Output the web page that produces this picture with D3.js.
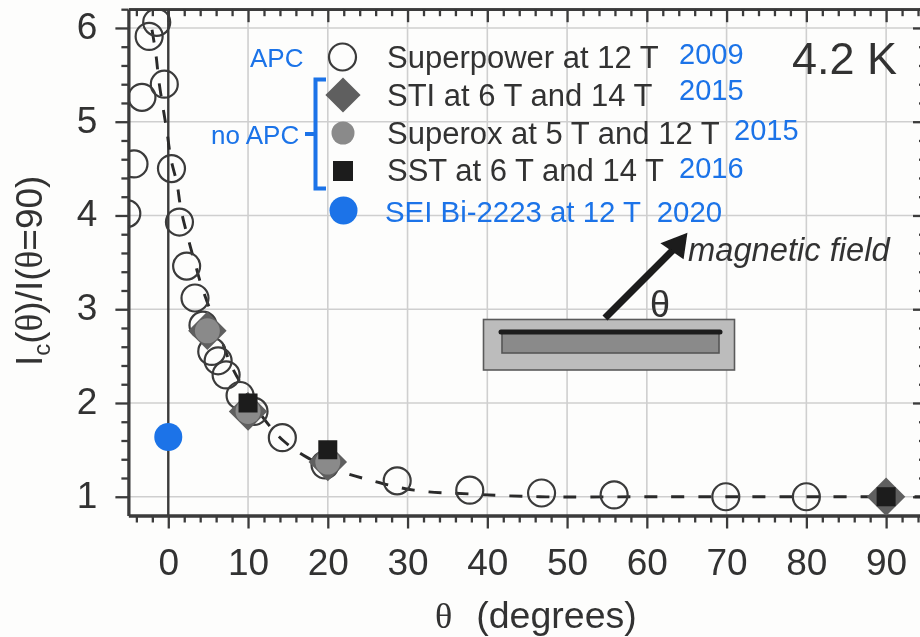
<!DOCTYPE html>
<html><head><meta charset="utf-8">
<script src="https://cdn.jsdelivr.net/npm/d3@7/dist/d3.min.js"></script>
<style>html,body{margin:0;padding:0;background:#fdfdfc}svg{display:block}text{font-family:"Liberation Sans",Arial,sans-serif}</style>
</head><body><svg id="c" width="920" height="637"></svg>
<script>
const superpowerTheta=[-1.45,-2.4,-0.5,-3.3,-4.3,0.4,-5.2,1.4,2.3,3.35,4.35,5.45,6.25,7.25,9,10.75,14.3,19.65,28.7,37.8,46.8,55.9,69.9,80];
const superpowerRatio=[6.06,5.91,5.4,5.26,4.55,4.5,4.02,3.93,3.46,3.12,2.83,2.55,2.45,2.3,2.08,1.91,1.63,1.34,1.17,1.07,1.04,1.02,1,1];
const stiTheta=[4.9,10,20,90];
const stiRatio=[2.77,1.91,1.37,1];
const superoxTheta=[4.9,10,20];
const superoxRatio=[2.77,1.91,1.37];
const sstTheta=[10,20,90];
const sstRatio=[2,1.5,1];
const seiTheta=[0];
const seiRatio=[1.637];
const fitTheta=[-2.04,-1.54,-1.17,-0.66,-0.16,0.34,1.09,1.6,2.47,3.35,4.2,6.2,8,9.4,12.1,14.4,17.4,20.3,24.3,30.8,37.8,46.6,60,95];
const fitRatio=[5.98,5.71,5.43,5.15,4.89,4.6,4.34,4.06,3.76,3.49,3.24,2.78,2.38,2.17,1.82,1.6,1.42,1.31,1.2,1.07,1.03,1,1,1];
const xTicks=[0,10,20,30,40,50,60,70,80,90];
const yTicks=[1,2,3,4,5,6];
const legendLabels=["Superpower at 12 T","STI at 6 T and 14 T","Superox at 5 T and 12 T","SST at 6 T and 14 T"];
const legendYears=["2009","2015","2015","2016"];
const seiLabel="SEI Bi-2223 at 12 T  2020";

const ink="#3a3a3a",blue="#1a73e8";
const L=128.4,R=926,T=9.2,B=515.5;
const svg=d3.select("#c");
const defs=svg.append("defs");
defs.append("clipPath").attr("id","plot").append("rect").attr("x",L).attr("y",T).attr("width",R-L).attr("height",B-T);
defs.append("filter").attr("id","soft").append("feGaussianBlur").attr("stdDeviation",0.45);
const x=d3.scaleLinear().domain([-5,95]).range([L,R]);
const y=d3.scaleLinear().domain([0.8,6.2]).range([B,T]);
const root=svg.append("g").attr("filter","url(#soft)");

const grid=root.append("g").attr("stroke","#cfcfcf").attr("stroke-width",1.6);
grid.selectAll(".gx").data(xTicks.filter(d=>d!==0)).join("line").attr("x1",d=>x(d)).attr("x2",d=>x(d)).attr("y1",T).attr("y2",B);
grid.selectAll(".gy").data(yTicks).join("line").attr("x1",L).attr("x2",R).attr("y1",d=>y(d)).attr("y2",d=>y(d));

function minor(lo,hi,step){return d3.range(Math.round((hi-lo)/step)+1).map(i=>+(lo+i*step).toFixed(3));}
const xMinor=minor(-4,94,2).filter(d=>!xTicks.includes(d));
const yMinor=minor(1,6.2,0.2).filter(d=>!yTicks.includes(d));
function styleAxis(g){g.selectAll("path").attr("stroke",ink).attr("stroke-width",2.8);g.selectAll("line").attr("stroke",ink).attr("stroke-width",2.3);g.selectAll("text").attr("fill","#333").attr("font-size",37).attr("font-family",'"Liberation Sans",Arial,sans-serif');}
const gB=root.append("g").attr("transform",`translate(0,${B})`).call(d3.axisBottom(x).tickValues(xTicks).tickFormat(d3.format("d")).tickSize(13).tickPadding(20).tickSizeOuter(0));styleAxis(gB);
const gBm=root.append("g").attr("transform",`translate(0,${B})`).call(d3.axisBottom(x).tickValues(xMinor).tickFormat("").tickSize(7).tickSizeOuter(0));styleAxis(gBm);
const gT=root.append("g").attr("transform",`translate(0,${T})`).call(d3.axisBottom(x).tickValues(xTicks).tickFormat("").tickSize(13).tickSizeOuter(0));styleAxis(gT);
const gTm=root.append("g").attr("transform",`translate(0,${T})`).call(d3.axisBottom(x).tickValues(xMinor).tickFormat("").tickSize(7).tickSizeOuter(0));styleAxis(gTm);
const gL=root.append("g").attr("transform",`translate(${L},0)`).call(d3.axisLeft(y).tickValues(yTicks).tickFormat(d3.format("d")).tickSize(13).tickPadding(18).tickSizeOuter(0));styleAxis(gL);
gL.selectAll("text").attr("dy","0.28em");
const gLm=root.append("g").attr("transform",`translate(${L},0)`).call(d3.axisLeft(y).tickValues(yMinor).tickFormat("").tickSize(7).tickSizeOuter(0));styleAxis(gLm);
const gR=root.append("g").attr("transform",`translate(${R},0)`).call(d3.axisLeft(y).tickValues(yTicks).tickFormat("").tickSize(13).tickSizeOuter(0));styleAxis(gR);
const gRm=root.append("g").attr("transform",`translate(${R},0)`).call(d3.axisLeft(y).tickValues(yMinor).tickFormat("").tickSize(7).tickSizeOuter(0));styleAxis(gRm);

root.append("line").attr("x1",x(0)).attr("x2",x(0)).attr("y1",T).attr("y2",B).attr("stroke",ink).attr("stroke-width",2.4);

const plot=root.append("g").attr("clip-path","url(#plot)");
plot.append("path").datum(d3.zip(fitTheta,fitRatio)).attr("d",d3.line().x(d=>x(d[0])).y(d=>y(d[1])).curve(d3.curveCatmullRom)).attr("fill","none").attr("stroke","#2a2a2a").attr("stroke-width",2.9).attr("stroke-dasharray","13 14");
plot.selectAll(".sp").data(d3.zip(superpowerTheta,superpowerRatio)).join("circle").attr("cx",d=>x(d[0])).attr("cy",d=>y(d[1])).attr("r",13.5).attr("fill","none").attr("stroke",ink).attr("stroke-width",2.2);
const dia=d3.symbol().type(d3.symbolSquare).size(740),sq=d3.symbol().type(d3.symbolSquare).size(361);
plot.selectAll(".st").data(d3.zip(stiTheta,stiRatio)).join("path").attr("d",dia).attr("transform",d=>`translate(${x(d[0])},${y(d[1])}) rotate(45)`).attr("fill","#5e5e5e");
plot.selectAll(".so").data(d3.zip(superoxTheta,superoxRatio)).join("circle").attr("cx",d=>x(d[0])).attr("cy",d=>y(d[1])).attr("r",12.5).attr("fill","#8a8a8a");
plot.selectAll(".ss").data(d3.zip(sstTheta,sstRatio)).join("path").attr("d",sq).attr("transform",d=>`translate(${x(d[0])},${y(d[1])})`).attr("fill","#1b1b1b");
plot.selectAll(".se").data(d3.zip(seiTheta,seiRatio)).join("circle").attr("cx",d=>x(d[0])).attr("cy",d=>y(d[1])).attr("r",14).attr("fill",blue);

// axis titles
const serif='"Liberation Serif",serif';
const xt=root.append("text").attr("x",435).attr("y",628).attr("font-size",37.5).attr("fill","#333");
xt.append("tspan").attr("font-family",serif).attr("font-size",36).text("θ");
xt.append("tspan").attr("dx",24).text("(degrees)");
const yt=root.append("text").attr("transform","translate(42,366) rotate(-90)").attr("font-size",37).attr("fill","#333");
yt.append("tspan").text("I");
yt.append("tspan").attr("font-size",24).attr("dy",8).text("c");
yt.append("tspan").attr("dy",-8).text("(");
yt.append("tspan").attr("font-family",serif).text("θ");
yt.append("tspan").text(")/I(");
yt.append("tspan").attr("font-family",serif).text("θ");
yt.append("tspan").text("=90)");

// legend
const rowY=[57,95,133,171];
const labelY=[67.5,105.5,143.5,181];
const lg=root.append("g");
lg.append("circle").attr("cx",342.5).attr("cy",rowY[0]).attr("r",13.5).attr("fill","none").attr("stroke",ink).attr("stroke-width",2.2);
lg.append("path").attr("d",d3.symbol().type(d3.symbolSquare).size(620)).attr("transform",`translate(343,${rowY[1]}) rotate(45)`).attr("fill","#5e5e5e");
lg.append("circle").attr("cx",343).attr("cy",rowY[2]).attr("r",11.5).attr("fill","#8a8a8a");
lg.append("path").attr("d",d3.symbol().type(d3.symbolSquare).size(400)).attr("transform",`translate(343,${rowY[3]})`).attr("fill","#1b1b1b");
lg.append("circle").attr("cx",343.5).attr("cy",210.5).attr("r",14).attr("fill",blue);
lg.selectAll(".lt").data(legendLabels).join("text").attr("x",387).attr("y",(d,i)=>labelY[i]).attr("font-size",31).attr("fill","#333").text(d=>d);
const yearX=[679,679,734,679];const yearY=[64,99.5,140,177.5];
lg.selectAll(".yr").data(legendYears).join("text").attr("x",(d,i)=>yearX[i]).attr("y",(d,i)=>yearY[i]).attr("font-size",29).attr("fill",blue).text(d=>d);
lg.append("text").attr("x",385).attr("y",221.5).attr("font-size",29.4).attr("fill",blue).style("white-space","pre").text(seiLabel);
lg.append("text").attr("x",250).attr("y",66.5).attr("font-size",26).attr("fill",blue).text("APC");
lg.append("text").attr("x",211).attr("y",143.5).attr("font-size",26).attr("fill",blue).text("no APC");
lg.append("path").attr("d","M326,79.5H315.5V188.5H326M305,134H315.5").attr("fill","none").attr("stroke",blue).attr("stroke-width",4);
lg.append("text").attr("x",792).attr("y",73.5).attr("font-size",45).attr("fill","#333").text("4.2 K");

// inset
const ins=root.append("g");
ins.append("rect").attr("x",483.5).attr("y",319.5).attr("width",251).attr("height",50.5).attr("fill","#bcbcbc").attr("stroke","#5a5a5a").attr("stroke-width",1.6);
ins.append("rect").attr("x",502).attr("y",333).attr("width",217).attr("height",20).attr("fill","#8a8a8a").attr("stroke","#555").attr("stroke-width",1.6);
ins.append("line").attr("x1",501).attr("x2",720).attr("y1",332).attr("y2",332).attr("stroke","#1b1b1b").attr("stroke-width",5).attr("stroke-linecap","round");
ins.append("line").attr("x1",605).attr("y1",318).attr("x2",674).attr("y2",249).attr("stroke","#1b1b1b").attr("stroke-width",7);
ins.append("path").attr("d","M686.5,234L662,243.5L683,258Z").attr("fill","#1b1b1b").attr("stroke","#1b1b1b").attr("stroke-width",1.5);
ins.append("text").attr("x",650).attr("y",316.5).attr("font-size",36).attr("font-family",serif).attr("fill","#333").text("θ");
ins.append("text").attr("x",688).attr("y",260.5).attr("font-size",32.7).attr("font-style","italic").attr("fill","#333").text("magnetic field");
</script></body></html>
